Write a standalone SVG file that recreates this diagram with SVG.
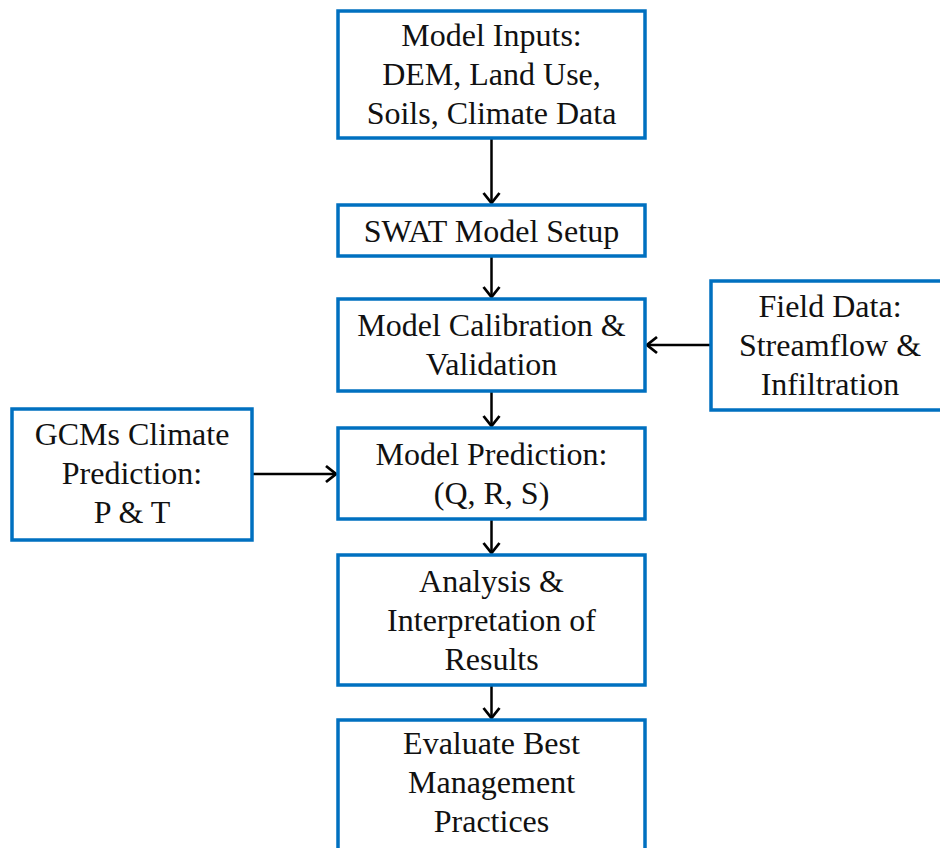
<svg xmlns="http://www.w3.org/2000/svg" width="940" height="848" viewBox="0 0 940 848">
<defs>
<style>
.box{fill:#fff;stroke:#0070C0;stroke-width:3.5}
.c{stroke:#000;stroke-width:2.5;fill:none}
text{font-family:'Liberation Serif','Times New Roman',serif;font-size:32px;fill:#111;text-anchor:middle}
</style>
<marker id="ah" markerUnits="userSpaceOnUse" markerWidth="14" markerHeight="20" viewBox="0 0 14 20" refX="12" refY="10" orient="auto">
<path d="M2,2 L12,10 L2,18" fill="none" stroke="#000" stroke-width="2.8" stroke-linejoin="miter"/>
</marker>
</defs>
<rect width="940" height="848" fill="#fff"/>
<g id="connectors">
<line class="c" x1="491.5" y1="139" x2="491.5" y2="203" marker-end="url(#ah)"/>
<line class="c" x1="491.5" y1="257" x2="491.5" y2="297" marker-end="url(#ah)"/>
<line class="c" x1="491.5" y1="392" x2="491.5" y2="426" marker-end="url(#ah)"/>
<line class="c" x1="491.5" y1="520" x2="491.5" y2="553" marker-end="url(#ah)"/>
<line class="c" x1="491.5" y1="686" x2="491.5" y2="718" marker-end="url(#ah)"/>
<line class="c" x1="253" y1="474" x2="336" y2="474" marker-end="url(#ah)"/>
<line class="c" x1="710" y1="345" x2="647" y2="345" marker-end="url(#ah)"/>
</g>
<g id="inputs">
<rect class="box" x="338" y="11" width="307" height="127"/>
<text x="491.5" y="46">Model Inputs:</text>
<text x="491.5" y="85">DEM, Land Use,</text>
<text x="491.5" y="124">Soils, Climate Data</text>
</g>
<g id="setup">
<rect class="box" x="338" y="205" width="307" height="51"/>
<text x="491.5" y="242">SWAT Model Setup</text>
</g>
<g id="calibration">
<rect class="box" x="338" y="299" width="307" height="92"/>
<text x="491.5" y="336">Model Calibration &amp;</text>
<text x="491.5" y="375">Validation</text>
</g>
<g id="field">
<rect class="box" x="711" y="281" width="240" height="129"/>
<text x="830" y="317">Field Data:</text>
<text x="830" y="356">Streamflow &amp;</text>
<text x="830" y="395">Infiltration</text>
</g>
<g id="gcms">
<rect class="box" x="12" y="409" width="240" height="131"/>
<text x="132" y="445">GCMs Climate</text>
<text x="132" y="484">Prediction:</text>
<text x="132" y="523">P &amp; T</text>
</g>
<g id="prediction">
<rect class="box" x="338" y="428" width="307" height="91"/>
<text x="491.5" y="465">Model Prediction:</text>
<text x="491.5" y="504">(Q, R, S)</text>
</g>
<g id="analysis">
<rect class="box" x="338" y="555" width="307" height="130"/>
<text x="491.5" y="592">Analysis &amp;</text>
<text x="491.5" y="631">Interpretation of</text>
<text x="491.5" y="670">Results</text>
</g>
<g id="evaluate">
<rect class="box" x="338" y="720" width="307" height="140"/>
<text x="491.5" y="754">Evaluate Best</text>
<text x="491.5" y="793">Management</text>
<text x="491.5" y="832">Practices</text>
</g>
</svg>
